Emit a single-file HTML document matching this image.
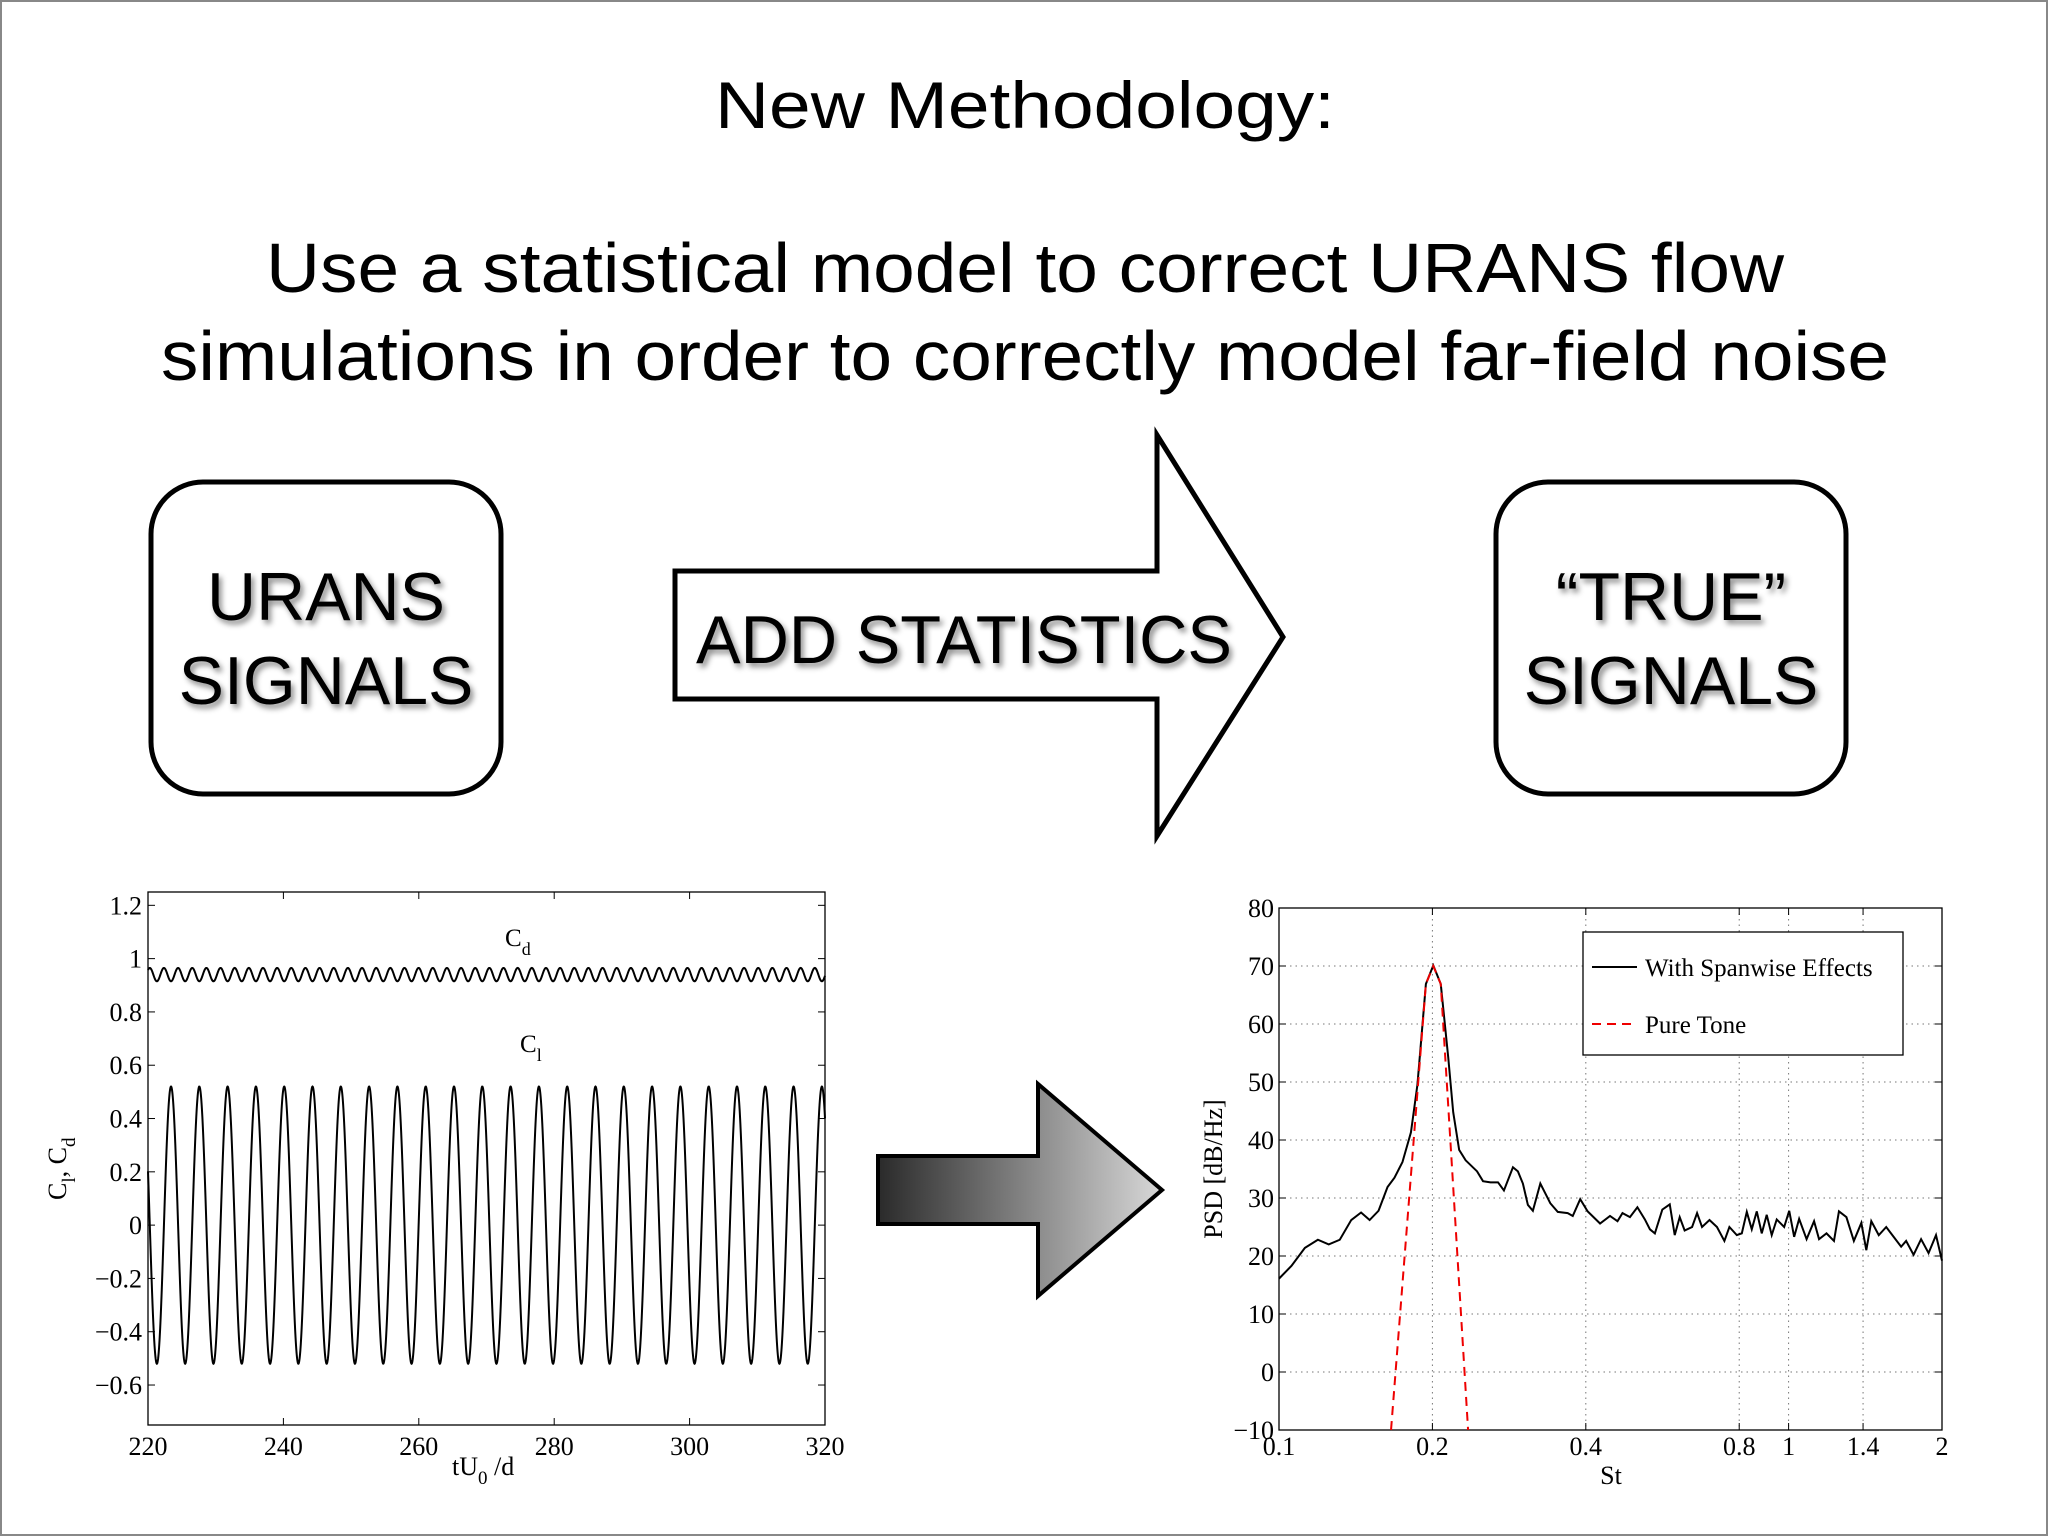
<!DOCTYPE html>
<html><head><meta charset="utf-8"><style>
html,body{margin:0;padding:0;background:#fff}
svg{display:block}
.t{font-family:"Liberation Sans",sans-serif}
.s{font-family:"Liberation Serif",serif}
</style></head><body>
<svg id="root" width="2048" height="1536" viewBox="0 0 2048 1536" xmlns="http://www.w3.org/2000/svg">
<defs>
<linearGradient id="g1" x1="0" x2="1" y1="0" y2="0"><stop offset="0" stop-color="#2a2a2a"/><stop offset="1" stop-color="#d8d8d8"/></linearGradient>
<filter id="sh" x="-10%" y="-10%" width="130%" height="140%"><feDropShadow dx="3" dy="4" stdDeviation="3" flood-color="#000" flood-opacity="0.45"/></filter>
</defs>
<rect x="1" y="1" width="2046" height="1534" fill="#fff" stroke="#888" stroke-width="2"/>
<text class="t" x="1025" y="128" font-size="66" text-anchor="middle" textLength="620" lengthAdjust="spacingAndGlyphs">New Methodology:</text>
<text class="t" x="1025" y="292" font-size="70" text-anchor="middle" textLength="1518" lengthAdjust="spacingAndGlyphs">Use a statistical model to correct URANS flow</text>
<text class="t" x="1025" y="380" font-size="70" text-anchor="middle" textLength="1728" lengthAdjust="spacingAndGlyphs">simulations in order to correctly model far-field noise</text>

<g>
<rect x="151" y="482" width="350" height="312" rx="52" fill="#fff" stroke="#000" stroke-width="5"/>
<text class="t" x="326" y="620" font-size="68" text-anchor="middle" filter="url(#sh)">URANS</text>
<text class="t" x="326" y="704" font-size="68" text-anchor="middle" filter="url(#sh)">SIGNALS</text>
</g>
<g>
<rect x="1496" y="482" width="350" height="312" rx="52" fill="#fff" stroke="#000" stroke-width="5"/>
<text class="t" x="1671" y="620" font-size="68" text-anchor="middle" filter="url(#sh)">“TRUE”</text>
<text class="t" x="1671" y="704" font-size="68" text-anchor="middle" filter="url(#sh)">SIGNALS</text>
</g>
<g>
<polygon points="675,571 1157,571 1157,435 1283,637 1157,836 1157,699 675,699" fill="#fff" stroke="#000" stroke-width="5"/>
<text class="t" x="964" y="663" font-size="68" text-anchor="middle" textLength="536" lengthAdjust="spacingAndGlyphs" filter="url(#sh)">ADD STATISTICS</text>
</g>
<polygon points="878,1156 1038,1156 1038,1084 1162,1190 1038,1296 1038,1224 878,1224" fill="url(#g1)" stroke="#000" stroke-width="4"/>
<g id="c1"></g>
<g id="c2"></g>
</svg>
<script>
// ---- Chart 1 data ----
const c1XTicks=[220,240,260,280,300,320];
const c1YTicks=[-0.6,-0.4,-0.2,0,0.2,0.4,0.6,0.8,1,1.2];
const c1YTickLabels=["\u22120.6","\u22120.4","\u22120.2","0","0.2","0.4","0.6","0.8","1","1.2"];
const clAmplitude=[0.52];
const clPeriod=[4.18];
const clFirstPeak=[223.4];
const cdMean=[0.94];
const cdAmplitude=[0.025];
// ---- Chart 2 data ----
const c2XTicks=[0.1,0.2,0.4,0.8,1,1.4,2];
const c2XTickLabels=["0.1","0.2","0.4","0.8","1","1.4","2"];
const c2YTicks=[-10,0,10,20,30,40,50,60,70,80];
const c2YTickLabels=["\u221210","0","10","20","30","40","50","60","70","80"];
const psdSt=[0.1,0.1058,0.1124,0.1192,0.1252,0.1316,0.1386,0.1449,0.1506,0.1568,0.1633,0.1685,0.1747,0.1815,0.1869,0.1942,0.2008,0.2077,0.2148,0.2197,0.2257,0.2324,0.2447,0.2514,0.26,0.269,0.2763,0.2878,0.2943,0.301,0.3079,0.3149,0.3257,0.3407,0.3524,0.3686,0.3771,0.39,0.4033,0.4266,0.4462,0.4616,0.4721,0.4883,0.505,0.5224,0.5344,0.5465,0.5652,0.5845,0.5978,0.6114,0.6252,0.6466,0.6613,0.6763,0.6995,0.7235,0.7482,0.7653,0.7914,0.8095,0.8279,0.8467,0.866,0.8858,0.9059,0.9266,0.9478,0.9802,1.0028,1.0254,1.0488,1.0847,1.122,1.1475,1.1869,1.2276,1.2555,1.2985,1.343,1.3891,1.4207,1.4531,1.5029,1.5544,1.6077,1.6628,1.7007,1.7589,1.8197,1.8822,1.9466,2.0];
const psdDb=[16.1,18.3,21.4,22.8,22,22.8,26.2,27.5,26.2,27.8,31.9,33.5,36.2,41.3,49.5,66.9,70.1,66.9,54.3,44.8,38.3,36.5,34.6,32.9,32.7,32.7,31.3,35.3,34.6,32.5,28.8,27.8,32.5,29.1,27.6,27.4,26.9,29.8,27.7,25.6,26.9,26,27.4,26.7,28.4,26.3,24.6,23.9,28,28.9,23.6,26.7,24.4,25,27.4,25,26.2,25,22.6,25,23.6,23.9,27.6,24.6,27.7,23.9,27.1,23.6,26.3,25,27.8,23.3,26.4,22.9,26,22.9,23.9,22.6,27.7,26.7,22.6,25.7,21,26,23.6,25,23.3,21.6,22.6,20.2,22.9,20.5,23.6,19.2];
const toneSt=[0.1659,0.1942,0.2008,0.2077,0.235];
const toneDb=[-10,66.9,70,66.9,-10];

const NS="http://www.w3.org/2000/svg";
function mk(parent,tag,attrs,txt){const e=document.createElementNS(NS,tag);for(const k in attrs)e.setAttribute(k,attrs[k]);if(txt!==undefined)e.textContent=txt;parent.appendChild(e);return e;}

// Chart 1
(function(){
const g=document.getElementById('c1');
const L=148,R=825,T=892,B=1425;
const x=v=>L+(v-220)/100*(R-L);
const y=v=>B-(v+0.75)/2*(B-T);
const fr=mk(g,'rect',{x:L,y:T,width:R-L,height:B-T,fill:'none',stroke:'#000','stroke-width':1.3});


c1YTicks.forEach((v,i)=>{
 mk(g,'line',{x1:L,x2:L+7,y1:y(v),y2:y(v),stroke:'#000'});
 mk(g,'line',{x1:R,x2:R-7,y1:y(v),y2:y(v),stroke:'#000'});
 const t=mk(g,'text',{x:L-6,y:y(v)+9,'font-size':26,'text-anchor':'end',class:'s'},c1YTickLabels[i]);
 
 
});
c1XTicks.forEach(v=>{
 mk(g,'line',{x1:x(v),x2:x(v),y1:B,y2:B-7,stroke:'#000'});
 mk(g,'line',{x1:x(v),x2:x(v),y1:T,y2:T+7,stroke:'#000'});
 const t=mk(g,'text',{x:x(v),y:B+30,'font-size':26,'text-anchor':'middle',class:'s'},String(v));
 
 
});
let d1='',d2='';
for(let i=0;i<=3000;i++){const t=220+100*i/3000;
 const cl=clAmplitude[0]*Math.cos(2*Math.PI*(t-clFirstPeak[0])/clPeriod[0]);
 const cd=cdMean[0]-cdAmplitude[0]*Math.cos(4*Math.PI*(t-clFirstPeak[0])/clPeriod[0]);
 d1+=(i?'L':'M')+x(t).toFixed(2)+','+y(cl).toFixed(2);
 d2+=(i?'L':'M')+x(t).toFixed(2)+','+y(cd).toFixed(2);}
const p1=mk(g,'path',{d:d1,fill:'none',stroke:'#000','stroke-width':2});


const p2=mk(g,'path',{d:d2,fill:'none',stroke:'#000','stroke-width':2});


const a=mk(g,'text',{x:505,y:946,'font-size':25,class:'s'});a.innerHTML='C<tspan font-size="18" dy="9">d</tspan>';


const b=mk(g,'text',{x:520,y:1052,'font-size':25,class:'s'});b.innerHTML='C<tspan font-size="18" dy="9">l</tspan>';


const xl=mk(g,'text',{x:452,y:1475,'font-size':26,class:'s'});xl.innerHTML='tU<tspan font-size="19" dy="9">0</tspan><tspan dy="-9"> /d</tspan>';


const yl=mk(g,'text',{x:0,y:0,'font-size':26,class:'s',transform:'translate(66,1200) rotate(-90)'});yl.innerHTML='C<tspan font-size="19" dy="9">l</tspan><tspan dy="-9">, C</tspan><tspan font-size="19" dy="9">d</tspan>';


})();

// Chart 2
(function(){
const g=document.getElementById('c2');
const L=1279,R=1942,T=908,B=1430;
const lx=Math.log(0.1),lr=Math.log(2);
const x=v=>L+(Math.log(v)-lx)/(lr-lx)*(R-L);
const y=v=>B-(v+10)/90*(B-T);
c2YTicks.forEach((v,i)=>{
 if(v>-10&&v<80) mk(g,'line',{x1:L,x2:R,y1:y(v),y2:y(v),stroke:'#777','stroke-dasharray':'1.5 4','stroke-width':1});
 mk(g,'line',{x1:L,x2:L+7,y1:y(v),y2:y(v),stroke:'#000'});
 mk(g,'line',{x1:R,x2:R-7,y1:y(v),y2:y(v),stroke:'#000'});
 const t=mk(g,'text',{x:L-5,y:y(v)+9,'font-size':26,'text-anchor':'end',class:'s'},c2YTickLabels[i]);
 
 
});
c2XTicks.forEach((v,i)=>{
 if(v>0.1&&v<2) mk(g,'line',{x1:x(v),x2:x(v),y1:T,y2:B,stroke:'#777','stroke-dasharray':'1.5 4','stroke-width':1});
 mk(g,'line',{x1:x(v),x2:x(v),y1:B,y2:B-7,stroke:'#000'});
 mk(g,'line',{x1:x(v),x2:x(v),y1:T,y2:T+7,stroke:'#000'});
 const t=mk(g,'text',{x:x(v),y:B+25,'font-size':26,'text-anchor':'middle',class:'s'},c2XTickLabels[i]);
 
 
});
const fr=mk(g,'rect',{x:L,y:T,width:R-L,height:B-T,fill:'none',stroke:'#000','stroke-width':1.3});


let d='';psdSt.forEach((s,i)=>{d+=(i?'L':'M')+x(s).toFixed(2)+','+y(psdDb[i]).toFixed(2);});
const p=mk(g,'path',{d:d,fill:'none',stroke:'#000','stroke-width':2});


let d2='';toneSt.forEach((s,i)=>{d2+=(i?'L':'M')+x(s).toFixed(2)+','+y(toneDb[i]).toFixed(2);});
const q=mk(g,'path',{d:d2,fill:'none',stroke:'#e00','stroke-width':2,'stroke-dasharray':'9 6'});


const lg=mk(g,'g',{});


mk(lg,'rect',{x:1583,y:932,width:320,height:123,fill:'#fff',stroke:'#000','stroke-width':1.3});
mk(lg,'line',{x1:1592,x2:1637,y1:967,y2:967,stroke:'#000','stroke-width':2});
const e1=mk(lg,'text',{x:1645,y:976,'font-size':25,class:'s'},'With Spanwise Effects');


mk(lg,'line',{x1:1592,x2:1637,y1:1024,y2:1024,stroke:'#e00','stroke-width':2,'stroke-dasharray':'9 6'});
const e2=mk(lg,'text',{x:1645,y:1033,'font-size':25,class:'s'},'Pure Tone');


const xl=mk(g,'text',{x:1611,y:1484,'font-size':26,class:'s','text-anchor':'middle'},'St');


const yl=mk(g,'text',{x:0,y:0,'font-size':26,class:'s','text-anchor':'middle',transform:'translate(1222,1169) rotate(-90)'},'PSD [dB/Hz]');


})();
</script>
</body></html>
